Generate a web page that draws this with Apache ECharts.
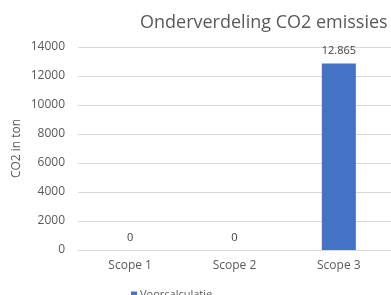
<!DOCTYPE html>
<html>
<head>
<meta charset="utf-8">
<script src="https://cdn.jsdelivr.net/npm/echarts@6/dist/echarts.min.js"></script>
<style>
  html, body { margin: 0; padding: 0; background: #fff; }
  #chart { width: 391px; height: 295px; }
</style>
</head>
<body>
<div id="chart"></div>
<script>
const categories = ['Scope 1', 'Scope 2', 'Scope 3']
const voorcalculatie = [0, 0, 12865]
const yTicks = [0, 2000, 4000, 6000, 8000, 10000, 12000, 14000]

const font = '"Open Sans", "Noto Sans", sans-serif'
const grey = '#595959'

// dutch thousands separator: 12865 -> 12.865
const dutch = v => v.toString().replace(/\B(?=(\d{3})+(?!\d))/g, '.')

const chart = echarts.init(document.getElementById('chart'))
chart.setOption({
  animation: false,
  textStyle: { fontFamily: font },
  title: {
    text: 'Onderverdeling CO2 emissies',
    left: 135,
    top: 9,
    textStyle: { fontFamily: font, fontSize: 18, fontWeight: 'normal', color: grey }
  },
  legend: {
    data: ['Voorcalculatie'],
    left: 126,
    top: 284,
    itemWidth: 6,
    itemHeight: 6,
    icon: 'rect',
    itemGap: 4,
    textStyle: { fontFamily: font, fontSize: 11, color: grey, padding: [0, 0, 0, -2] }
  },
  grid: {
    left: 78,
    top: 47,
    width: 322,
    height: 203
  },
  xAxis: {
    type: 'category',
    data: categories,
    axisLine: { lineStyle: { color: '#d9d9d9' } },
    axisTick: { show: false },
    axisLabel: { color: grey, fontSize: 12, margin: 10 }
  },
  yAxis: {
    type: 'value',
    min: yTicks[0],
    max: yTicks[yTicks.length - 1],
    interval: 2000,
    name: 'CO2 in ton',
    nameLocation: 'middle',
    nameGap: 55,
    nameMoveOverlap: false,
    nameTextStyle: { color: grey, fontSize: 12 },
    axisLine: { show: false },
    axisTick: { show: false },
    axisLabel: { color: grey, fontSize: 12, margin: 13, formatter: v => String(v) },
    splitLine: { lineStyle: { color: '#d9d9d9' } }
  },
  series: [{
    name: 'Voorcalculatie',
    type: 'bar',
    data: voorcalculatie,
    barWidth: 34,
    itemStyle: { color: '#4472C4' },
    label: {
      show: true,
      position: 'top',
      distance: 7,
      color: '#404040',
      fontSize: 11,
      formatter: p => dutch(p.value)
    }
  }]
})
</script>
</body>
</html>
